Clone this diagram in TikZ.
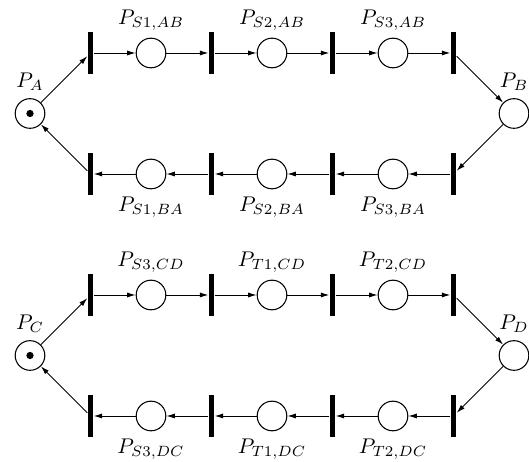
\documentclass[tikz,border=0pt]{standalone}
\usetikzlibrary{arrows.meta}
\tikzset{
 place/.style={circle,draw,minimum size=0.49cm,inner sep=0pt,line width=0.5pt},
 trans/.style={rectangle,fill=black,minimum width=0.09cm,minimum height=0.71cm,inner sep=0pt},
 arc/.style={-{Latex[length=4pt,width=2.4pt]},line width=0.45pt},
 token/.style={circle,fill=black,minimum size=0.12cm,inner sep=0pt}
}
\begin{document}
\begin{tikzpicture}
\useasboundingbox (-0.496,-5.76) rectangle (8.248,1.876);
% upper net
\node[place,label=above:$P_A$] (pa) at (0,0) {};
\node[token] (pat) at (pa) {};
\node[place,label=above:$P_B$] (pb) at (8,0) {};
\node[trans] (t1) at (1,1) {};
\node[trans] (t2) at (3,1) {};
\node[trans] (t3) at (5,1) {};
\node[trans] (t4) at (7,1) {};
\node[place,label=above:$P_{S1,AB}$] (s1ab) at (2,1) {};
\node[place,label=above:$P_{S2,AB}$] (s2ab) at (4,1) {};
\node[place,label=above:$P_{S3,AB}$] (s3ab) at (6,1) {};
\node[trans] (t5) at (7,-1) {};
\node[trans] (t6) at (5,-1) {};
\node[trans] (t7) at (3,-1) {};
\node[trans] (t8) at (1,-1) {};
\node[place,label=below:$P_{S3,BA}$] (s3ba) at (6,-1) {};
\node[place,label=below:$P_{S2,BA}$] (s2ba) at (4,-1) {};
\node[place,label=below:$P_{S1,BA}$] (s1ba) at (2,-1) {};
\draw[arc] (pa) -- (t1);
\draw[arc] (t1) -- (s1ab);
\draw[arc] (s1ab) -- (t2);
\draw[arc] (t2) -- (s2ab);
\draw[arc] (s2ab) -- (t3);
\draw[arc] (t3) -- (s3ab);
\draw[arc] (s3ab) -- (t4);
\draw[arc] (t4) -- (pb);
\draw[arc] (pb) -- (t5);
\draw[arc] (t5) -- (s3ba);
\draw[arc] (s3ba) -- (t6);
\draw[arc] (t6) -- (s2ba);
\draw[arc] (s2ba) -- (t7);
\draw[arc] (t7) -- (s1ba);
\draw[arc] (s1ba) -- (t8);
\draw[arc] (t8) -- (pa);
% lower net
\node[place,label=above:$P_C$] (pc) at (0,-4) {};
\node[token] (pct) at (pc) {};
\node[place,label=above:$P_D$] (pd) at (8,-4) {};
\node[trans] (u1) at (1,-3) {};
\node[trans] (u2) at (3,-3) {};
\node[trans] (u3) at (5,-3) {};
\node[trans] (u4) at (7,-3) {};
\node[place,label=above:$P_{S3,CD}$] (s3cd) at (2,-3) {};
\node[place,label=above:$P_{T1,CD}$] (t1cd) at (4,-3) {};
\node[place,label=above:$P_{T2,CD}$] (t2cd) at (6,-3) {};
\node[trans] (u5) at (7,-5) {};
\node[trans] (u6) at (5,-5) {};
\node[trans] (u7) at (3,-5) {};
\node[trans] (u8) at (1,-5) {};
\node[place,label=below:$P_{T2,DC}$] (t2dc) at (6,-5) {};
\node[place,label=below:$P_{T1,DC}$] (t1dc) at (4,-5) {};
\node[place,label=below:$P_{S3,DC}$] (s3dc) at (2,-5) {};
\draw[arc] (pc) -- (u1);
\draw[arc] (u1) -- (s3cd);
\draw[arc] (s3cd) -- (u2);
\draw[arc] (u2) -- (t1cd);
\draw[arc] (t1cd) -- (u3);
\draw[arc] (u3) -- (t2cd);
\draw[arc] (t2cd) -- (u4);
\draw[arc] (u4) -- (pd);
\draw[arc] (pd) -- (u5);
\draw[arc] (u5) -- (t2dc);
\draw[arc] (t2dc) -- (u6);
\draw[arc] (u6) -- (t1dc);
\draw[arc] (t1dc) -- (u7);
\draw[arc] (u7) -- (s3dc);
\draw[arc] (s3dc) -- (u8);
\draw[arc] (u8) -- (pc);
\end{tikzpicture}
\end{document}
